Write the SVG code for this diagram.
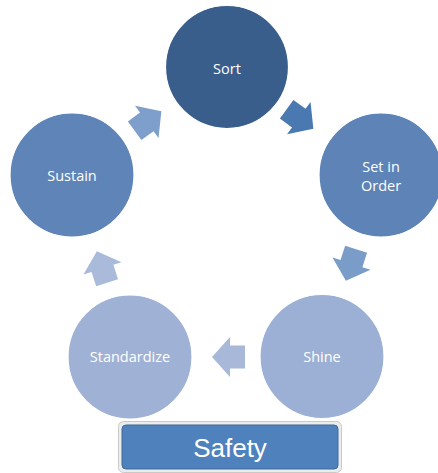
<svg xmlns="http://www.w3.org/2000/svg" width="438" height="473" viewBox="0 0 438 473">
  <defs>
    <style>
      .node circle { stroke: #ffffff; stroke-width: 1.2; }
      .label { font-family: "Open Sans", "Noto Sans", sans-serif; font-size: 14.5px; fill: #ffffff; text-anchor: middle; }
      .safety { font-family: "Liberation Sans", Arial, sans-serif; font-size: 26px; fill: #ffffff; text-anchor: middle; }
    </style>
    <!-- block arrow pointing right, centred on the origin -->
    <path id="blockArrow" d="M16.5,-11.5 L1.5,-11.5 L1.5,-20 L-16.5,0 L1.5,20 L1.5,11.5 L16.5,11.5 Z" transform="scale(-1,1)"/>
  </defs>
  <rect width="438" height="473" fill="#ffffff"/>

  <!-- cycle connectors -->
  <g id="connectors">
    <use href="#blockArrow" transform="translate(300,119) rotate(36)" fill="#4A78B0"/>
    <use href="#blockArrow" transform="translate(351,265) rotate(108)" fill="#7A9CC9"/>
    <use href="#blockArrow" transform="translate(228.5,357) rotate(180)" fill="#A7B8D9"/>
    <use href="#blockArrow" transform="translate(102,267) rotate(252)" fill="#A9BADB"/>
    <use href="#blockArrow" transform="translate(148,121) rotate(324)" fill="#7E9ECB"/>
  </g>

  <g id="sort" class="node">
    <circle cx="227" cy="67" r="61.5" fill="#3A5E8C"/>
    <text class="label" x="227" y="74">Sort</text>
  </g>
  <g id="set-in-order" class="node">
    <circle cx="381" cy="175" r="62" fill="#5E83B7"/>
    <text class="label" x="381" y="171.5">Set in</text>
    <text class="label" x="381" y="190.5">Order</text>
  </g>
  <g id="shine" class="node">
    <circle cx="322" cy="356.5" r="62" fill="#9BB0D4"/>
    <text class="label" x="322" y="361.5">Shine</text>
  </g>
  <g id="standardize" class="node">
    <circle cx="130" cy="357" r="62" fill="#9FB2D5"/>
    <text class="label" x="130" y="362">Standardize</text>
  </g>
  <g id="sustain" class="node">
    <circle cx="72" cy="175" r="62" fill="#5F84B8"/>
    <text class="label" x="72" y="180.5">Sustain</text>
  </g>

  <g id="safety">
    <rect x="118.5" y="421.5" width="223" height="51" rx="5" fill="#ECECEC" stroke="#C9C9C9"/>
    <rect x="122" y="425" width="216" height="44" rx="4" fill="#4F81BD" stroke="#3F6899"/>
    <text class="safety" x="230" y="456.5">Safety</text>
  </g>
</svg>
